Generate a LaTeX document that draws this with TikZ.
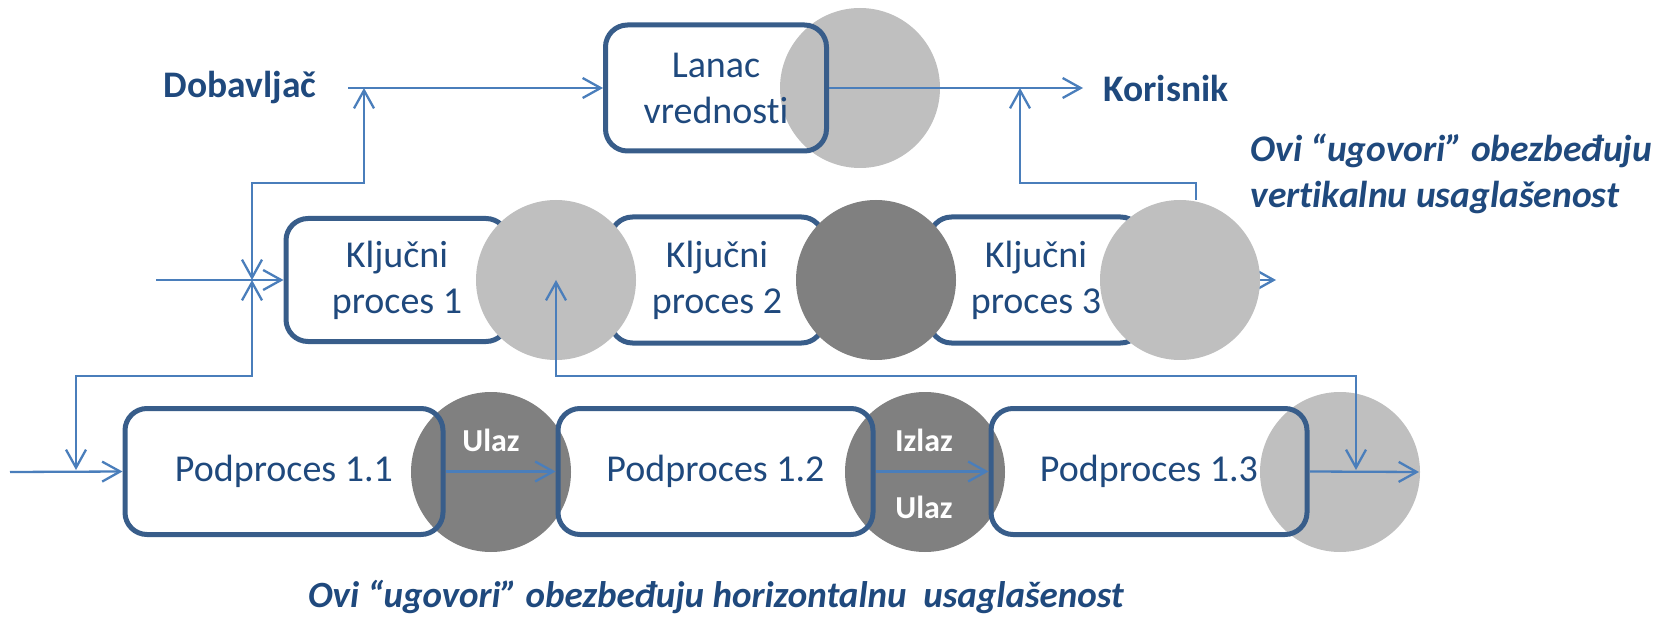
\documentclass[tikz,border=0pt]{standalone}
\usepackage{fontspec}
\setmainfont{Carlito}[Ligatures=NoCommon]
\usetikzlibrary{arrows.meta}
\definecolor{txtblue}{HTML}{1F497D}
\definecolor{boxblue}{HTML}{385D8A}
\definecolor{linkblue}{HTML}{4A7EBB}
\definecolor{lightgray}{HTML}{BFBFBF}
\definecolor{darkgray}{HTML}{808080}
\begin{document}
\begin{tikzpicture}[x=1pt,y=-1pt,
  procbox/.style={draw=boxblue,line width=5pt,rounded corners=22pt,
    minimum height=126pt,inner sep=0pt,align=center,text=txtblue,
    font=\fontsize{38}{46}\selectfont},
  blob/.style={circle,minimum size=160pt,inner sep=0pt,draw=none},
  lightblob/.style={blob,fill=lightgray},
  darkblob/.style={blob,fill=darkgray},
  party/.style={text=txtblue,font=\fontsize{37.5}{44}\selectfont\bfseries},
  note/.style={text=txtblue,font=\fontsize{37}{46}\selectfont\bfseries\itshape,align=left},
  tag/.style={text=white,font=\fontsize{32}{36}\selectfont\bfseries},
  link/.style={draw=linkblue,line width=2.3pt},
  arr/.style={link,-{Straight Barb[length=18pt,width=20pt]}},
  dblarr/.style={link,{Straight Barb[length=18pt,width=20pt]}-{Straight Barb[length=18pt,width=20pt]}}]
\useasboundingbox (0,0) rectangle (1668,620);

% top level: value chain
\node[lightblob] (e0) at (860,88) {};
\node[procbox,minimum width=221pt] (lanac) at (716,88) {Lanac\\vrednosti};

% key processes
\node[procbox,fill=white,minimum width=222pt,minimum height=123pt] (kp1) at (397,280) {Ključni\\proces 1};
\node[procbox,fill=white,minimum width=213pt,minimum height=126pt] (kp2) at (717,280) {Ključni\\proces 2};
\node[procbox,fill=white,minimum width=213pt,minimum height=126pt] (kp3) at (1036,280) {Ključni\\proces 3};
\coordinate (kpout) at (1276,280);
\draw[arr] (kp3.east) -- (kpout);
\node[lightblob] (e1) at (556,280) {};
\node[darkblob] (e2) at (876,280) {};
\node[lightblob] (e3) at (1180,280) {};

% sub-processes
\node[darkblob] (f1) at (491,472) {};
\node[darkblob] (f2) at (925,472) {};
\node[lightblob] (f3) at (1340,472) {};
\node[procbox,minimum width=318pt] (p11) at (284,471.5) {Podproces 1.1};
\node[procbox,minimum width=315pt] (p12) at (715.5,471.5) {Podproces 1.2};
\node[procbox,minimum width=316pt] (p13) at (1149,471.5) {Podproces 1.3};
\node[tag] (t1) at (491,440) {Ulaz};
\node[tag] (t2) at (924,440) {Izlaz};
\node[tag] (t3) at (924,507) {Ulaz};

% labels
\node[party] (dob) at (240,88) {Dobavljač};
\node[party] (kor) at (1166,88) {Korisnik};
\node[note,font=\fontsize{37.5}{46}\selectfont\bfseries\itshape,anchor=west] (vnote) at (1247,174) {Ovi “ugovori” obezbeđuju\\vertikalnu usaglašenost};
\node[note] (hnote) at (716,597) {Ovi “ugovori” obezbeđuju horizontalnu \ usaglašenost};

% connectors
\coordinate (dstart) at (348,88);
\coordinate (dmid) at (364,88);
\coordinate (kin) at (156,280);
\coordinate (kjoin) at (252,280);
\coordinate (pin) at (10,472);
\coordinate (pdrop) at (76,470);
\coordinate (korend) at (1083,88);
\coordinate (kup) at (1020,88);
\coordinate (k3top) at (1196,200);
\coordinate (e1mid) at (556,280);
\coordinate (p13drop) at (1356,470);
\coordinate (pout) at (1419,472);

\draw[arr] (dstart) -- (lanac.west);
\draw[dblarr] (kjoin) |- (308,183) -| (dmid);
\draw[dblarr] (pdrop) |- (164,376) -| (kjoin);
\draw[arr] (kin) -- (kp1.west);
\draw[arr] (pin) -- (p11.west);
\draw[arr] (lanac.east) -- (korend);
\draw[arr] (k3top) |- (1108,183) -| (kup);
\draw[dblarr] (e1mid) |- (956,376) -| (p13drop);
\draw[arr] (p11.east) -- (p12.west);
\draw[arr] (p12.east) -- (p13.west);
\draw[arr] (p13.east) -- (pout);
\end{tikzpicture}
\end{document}
